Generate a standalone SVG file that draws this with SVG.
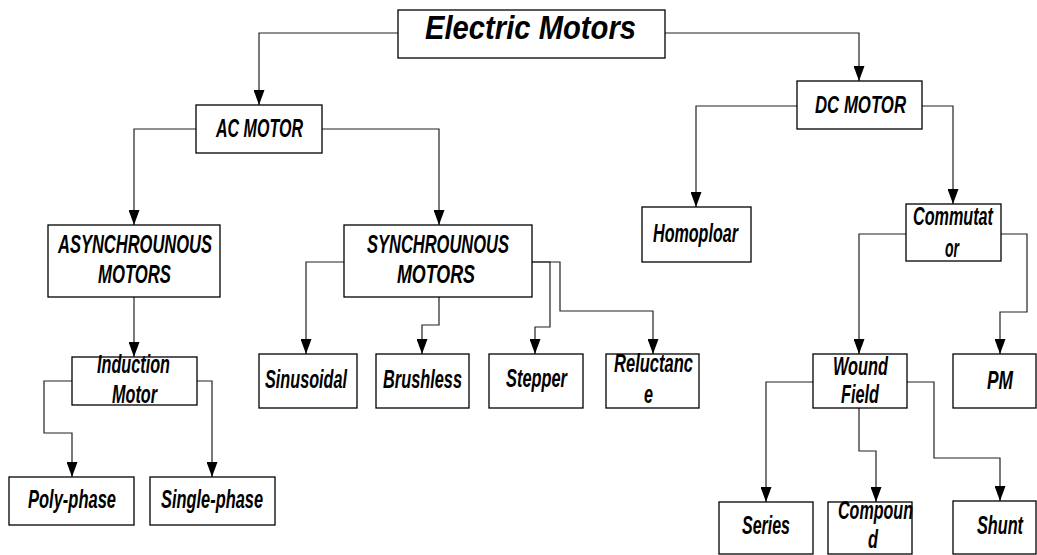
<svg xmlns="http://www.w3.org/2000/svg" width="1037" height="555" viewBox="0 0 1037 555">
<defs>
<marker id="arr" viewBox="0 0 11 15" markerWidth="11" markerHeight="15" refX="5.5" refY="15" orient="0" markerUnits="userSpaceOnUse">
<path d="M0,0 L11,0 L5.5,15 z" fill="#000"/>
</marker>
<style>
rect{fill:#fff;stroke:#000;stroke-width:1.3}
text{font-family:"Liberation Sans Narrow","Liberation Sans",Arial,sans-serif;font-weight:bold;font-style:italic;font-size:26px;fill:#000}
.c path{fill:none;stroke:#222;stroke-width:1.2;marker-end:url(#arr)}
</style>
</defs>
<rect x="0" y="0" width="1037" height="555" style="fill:#fff;stroke:none"/>
<g class="c" id="connectors">
<path d="M398,33 H259 V105"/>
<path d="M665,33 H859 V81"/>
<path d="M196,129 H134 V225"/>
<path d="M322,129 H439 V225"/>
<path d="M797,106 H696 V207"/>
<path d="M922,106 H953 V204"/>
<path d="M134,297 V357"/>
<path d="M344,262 H306 V354"/>
<path d="M439,297 V325 H422 V354"/>
<path d="M532,262 H550 V327 H535 V354"/>
<path d="M532,262 H560 V311 H653 V354"/>
<path d="M906,234 H859 V354"/>
<path d="M1001,234 H1027 V312 H1000 V354"/>
<path d="M72,381 H44 V433 H72 V477"/>
<path d="M197,381 H212 V477"/>
<path d="M813,382 H766 V502"/>
<path d="M859,408 V451 H876 V502"/>
<path d="M907,382 H934 V458 H1000 V501"/>
</g>
<g id="electric-motors"><rect x="398" y="10" width="267" height="48"/><text x="425" y="39" textLength="211" lengthAdjust="spacingAndGlyphs" style="font-size:33px">Electric Motors</text></g>
<g id="ac-motor"><rect x="196" y="105" width="126" height="48"/><text x="216" y="137" textLength="87" lengthAdjust="spacingAndGlyphs" style="font-size:26px">AC MOTOR</text></g>
<g id="dc-motor"><rect x="797" y="81" width="125" height="48"/><text x="815" y="113" textLength="91" lengthAdjust="spacingAndGlyphs" style="font-size:24px">DC MOTOR</text></g>
<g id="async"><rect x="48" y="225" width="172" height="72"/><text x="58" y="253" textLength="154" lengthAdjust="spacingAndGlyphs">ASYNCHROUNOUS</text><text x="98" y="283" textLength="73" lengthAdjust="spacingAndGlyphs">MOTORS</text></g>
<g id="sync"><rect x="344" y="225" width="188" height="72"/><text x="367" y="253" textLength="142" lengthAdjust="spacingAndGlyphs">SYNCHROUNOUS</text><text x="397" y="283" textLength="78" lengthAdjust="spacingAndGlyphs">MOTORS</text></g>
<g id="homopolar"><rect x="642" y="207" width="109" height="55"/><text x="653" y="242" textLength="85" lengthAdjust="spacingAndGlyphs">Homoploar</text></g>
<g id="commutator"><rect x="906" y="204" width="95" height="57"/><text x="913" y="225" textLength="80" lengthAdjust="spacingAndGlyphs">Commutat</text><text x="945" y="257" textLength="14" lengthAdjust="spacingAndGlyphs">or</text></g>
<g id="induction"><rect x="72" y="357" width="125" height="48"/><text x="97" y="373" textLength="73" lengthAdjust="spacingAndGlyphs">Induction</text><text x="112" y="403" textLength="45" lengthAdjust="spacingAndGlyphs">Motor</text></g>
<g id="sinusoidal"><rect x="259" y="354" width="98" height="54"/><text x="265" y="388" textLength="82" lengthAdjust="spacingAndGlyphs">Sinusoidal</text></g>
<g id="brushless"><rect x="376" y="354" width="93" height="54"/><text x="383" y="388" textLength="79" lengthAdjust="spacingAndGlyphs">Brushless</text></g>
<g id="stepper"><rect x="489" y="354" width="94" height="54"/><text x="506" y="387" textLength="61" lengthAdjust="spacingAndGlyphs">Stepper</text></g>
<g id="reluctance"><rect x="606" y="354" width="93" height="54"/><text x="614" y="372" textLength="79" lengthAdjust="spacingAndGlyphs">Reluctanc</text><text x="644" y="403" textLength="9" lengthAdjust="spacingAndGlyphs">e</text></g>
<g id="wound-field"><rect x="813" y="354" width="94" height="54"/><text x="833" y="375" textLength="55" lengthAdjust="spacingAndGlyphs">Wound</text><text x="841" y="403" textLength="38" lengthAdjust="spacingAndGlyphs">Field</text></g>
<g id="pm"><rect x="953" y="354" width="83" height="54"/><text x="987" y="389" textLength="26" lengthAdjust="spacingAndGlyphs">PM</text></g>
<g id="poly-phase"><rect x="9" y="477" width="125" height="48"/><text x="28" y="508" textLength="88" lengthAdjust="spacingAndGlyphs">Poly-phase</text></g>
<g id="single-phase"><rect x="150" y="477" width="125" height="48"/><text x="161" y="508" textLength="102" lengthAdjust="spacingAndGlyphs">Single-phase</text></g>
<g id="series"><rect x="719" y="502" width="94" height="52"/><text x="742" y="534" textLength="48" lengthAdjust="spacingAndGlyphs">Series</text></g>
<g id="compound"><rect x="828" y="502" width="84" height="52"/><text x="838" y="519" textLength="75" lengthAdjust="spacingAndGlyphs">Compoun</text><text x="868" y="548" textLength="10" lengthAdjust="spacingAndGlyphs">d</text></g>
<g id="shunt"><rect x="953" y="501" width="83" height="53"/><text x="977" y="534" textLength="46" lengthAdjust="spacingAndGlyphs">Shunt</text></g>
</svg>
